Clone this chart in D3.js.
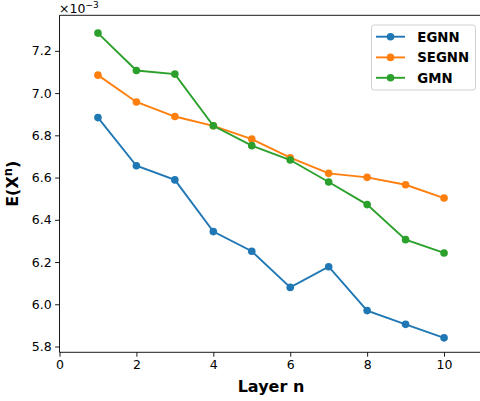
<!DOCTYPE html>
<html><head><meta charset="utf-8">
<script src="https://cdn.jsdelivr.net/npm/d3@7"></script>
<style>html,body{margin:0;padding:0;background:#fff;overflow:hidden}svg{display:block}</style>
</head><body>
<script>
const layers = [1,2,3,4,5,6,7,8,9,10];
const egnn  = [6.884,6.656,6.589,6.344,6.251,6.080,6.178,5.970,5.905,5.841];
const segnn = [7.085,6.958,6.889,6.845,6.782,6.694,6.620,6.601,6.566,6.503];
const gmn   = [7.284,7.107,7.090,6.845,6.751,6.683,6.579,6.472,6.306,6.243];
const seriesNames = ["EGNN","SEGNN","GMN"];
const colors = ["#1f77b4","#ff7f0e","#2ca02c"];
const xTicks = [0,2,4,6,8,10];
const yTicks = [5.8,6.0,6.2,6.4,6.6,6.8,7.0,7.2];

const W=480,H=401;
const svg=d3.select("body").append("svg").attr("width",W).attr("height",H);
const L=59.5, R=482.5, T=15.3, B=352.3;
const x=d3.scaleLinear().domain([0,11]).range([L,R]);
const y=d3.scaleLinear().domain([5.8-(B-346.5)/211.5, 7.2+(50.9-T)/211.5]).range([B,T]);
const font="DejaVu Sans, sans-serif";

// axes
const xa=svg.append("g").attr("transform",`translate(0,${B})`)
  .call(d3.axisBottom(x).tickValues(xTicks).tickSize(4.4).tickPadding(3.5).tickFormat(d3.format("d")));
const ya=svg.append("g").attr("transform",`translate(${L},0)`)
  .call(d3.axisLeft(y).tickValues(yTicks).tickSize(4.4).tickPadding(3.5).tickFormat(d3.format(".1f")));
[xa,ya].forEach(g=>{
  g.select(".domain").remove();
  g.selectAll("line").attr("stroke","#000").attr("stroke-width",0.9);
  g.selectAll("text").attr("font-family",font).attr("font-size",12.5).attr("fill","#000");
});
// spines
svg.append("line").attr("x1",L).attr("x2",L).attr("y1",T).attr("y2",B).attr("stroke","#000").attr("stroke-width",0.9);
svg.append("line").attr("x1",L).attr("x2",R).attr("y1",B).attr("y2",B).attr("stroke","#000").attr("stroke-width",0.9);
svg.append("line").attr("x1",L).attr("x2",R).attr("y1",T).attr("y2",T).attr("stroke","#000").attr("stroke-width",0.9);
svg.append("line").attr("x1",R).attr("x2",R).attr("y1",T).attr("y2",B).attr("stroke","#000").attr("stroke-width",0.9);

// offset text
const off=svg.append("text").attr("x",59).attr("y",13.3).attr("font-family",font).attr("font-size",12.5).attr("fill","#000");
off.append("tspan").text("×10");
off.append("tspan").attr("dy",-5).attr("font-size",9).text("−3");

// labels
svg.append("text").attr("x",(L+R)/2).attr("y",391.5).attr("text-anchor","middle")
  .attr("font-family",font).attr("font-weight","bold").attr("font-size",16).text("Layer n");
const yl=svg.append("text").attr("transform",`translate(17.5,${(T+B)/2}) rotate(-90)`).attr("text-anchor","middle")
  .attr("font-family",font).attr("font-weight","bold").attr("font-size",16);
yl.append("tspan").text("E(X");
yl.append("tspan").attr("dy",-6).attr("font-size",11.5).text("n");
yl.append("tspan").attr("dy",6).text(")");

// series
const data=[egnn,segnn,gmn];
const line=d3.line().x((d,i)=>x(layers[i])).y(d=>y(d));
const plot=svg.append("g");
data.forEach((s,k)=>{
  const g=plot.append("g");
  g.append("path").datum(s).attr("d",line).attr("fill","none").attr("stroke",colors[k]).attr("stroke-width",1.9);
  g.selectAll("circle").data(s).join("circle").attr("cx",(d,i)=>x(layers[i])).attr("cy",d=>y(d)).attr("r",3.8).attr("fill",colors[k]);
});

// legend
const lg=svg.append("g");
lg.append("rect").attr("x",371.5).attr("y",25).attr("width",104).attr("height",65).attr("rx",2.5)
  .attr("fill","#fff").attr("fill-opacity",0.8).attr("stroke","#ccc").attr("stroke-width",0.9);
const rows=[36.7,57.4,77.8];
seriesNames.forEach((n,k)=>{
  lg.append("line").attr("x1",376).attr("x2",405).attr("y1",rows[k]).attr("y2",rows[k]).attr("stroke",colors[k]).attr("stroke-width",1.9);
  lg.append("circle").attr("cx",390.5).attr("cy",rows[k]).attr("r",3.8).attr("fill",colors[k]);
  lg.append("text").attr("x",417.3).attr("y",rows[k]+4.8).attr("font-family",font).attr("font-weight","bold").attr("font-size",13.3).text(n);
});
</script>
</body></html>
